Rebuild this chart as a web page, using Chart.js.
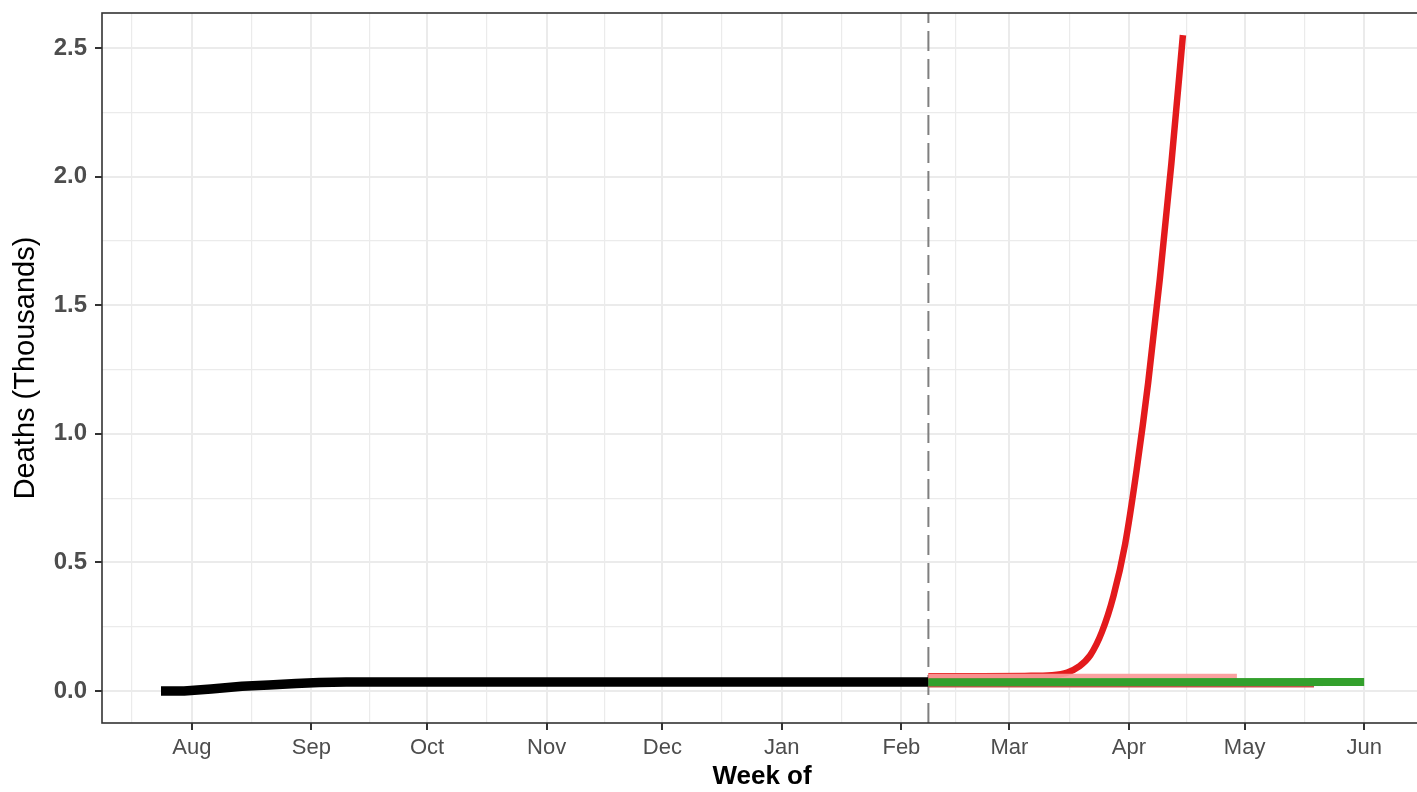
<!DOCTYPE html>
<html>
<head>
<meta charset="utf-8">
<script src="https://cdn.jsdelivr.net/npm/chart.js@4"></script>
<style>
  html, body { margin: 0; padding: 0; background: #fff; overflow: hidden; }
  #wrap { width: 1422px; height: 792px; position: relative; }
</style>
</head>
<body>
<div id="wrap"><canvas id="deathsChart"></canvas></div>
<script>
// ---- data (deaths, thousands) ----
const observedDates = ['2020-07-24', '2020-07-30', '2020-08-06', '2020-08-14', '2020-08-21', '2020-08-28',
    '2020-09-03', '2020-09-10', '2020-10-01', '2020-11-01', '2020-12-01', '2021-01-01', '2021-02-08'];
const observedValues = [0.000, 0.000, 0.008, 0.019, 0.024, 0.030,
    0.033, 0.035, 0.035, 0.035, 0.035, 0.035, 0.035];

const surgeDates = ['2021-02-08', '2021-02-22', '2021-03-05', '2021-03-12', '2021-03-16', '2021-03-19',
    '2021-03-22', '2021-03-25', '2021-03-28', '2021-03-31', '2021-04-03', '2021-04-06',
    '2021-04-09', '2021-04-12', '2021-04-15'];
const surgeValues = [0.058, 0.058, 0.059, 0.062, 0.072, 0.095,
    0.14, 0.23, 0.37, 0.57, 0.86, 1.20,
    1.60, 2.05, 2.55];

const lowRedDates = ['2021-02-08', '2021-05-19'];
const lowRedValues = [0.018, 0.018];

const pinkDates = ['2021-02-08', '2021-04-29'];
const pinkValues = [0.058, 0.058];

const greenDates = ['2021-02-08', '2021-06-01'];
const greenValues = [0.034, 0.035];

const forecastStart = '2021-02-08';

// ---- axes ----
const monthDates = ['2020-08-01', '2020-09-01', '2020-10-01', '2020-11-01', '2020-12-01', '2021-01-01',
    '2021-02-01', '2021-03-01', '2021-04-01', '2021-05-01', '2021-06-01'];
const monthLabels = ['Aug', 'Sep', 'Oct', 'Nov', 'Dec', 'Jan', 'Feb', 'Mar', 'Apr', 'May', 'Jun'];
const yMajor = [0, 0.5, 1.0, 1.5, 2.0, 2.5];
const yMinor = [0.25, 0.75, 1.25, 1.75, 2.25];
const yMin = -0.124, yMax = 2.636;
const xMin = -23.3, xMax = 319.0;   // days from 2020-08-01

const day = s => (Date.parse(s) - Date.parse('2020-08-01')) / 86400000;
const pts = (dates, vals) => dates.map((d, i) => ({ x: day(d), y: vals[i] }));

const majorX = monthDates.map(day);
// ggplot minor breaks sit halfway between the month breaks
const minorX = [majorX[0] - 15.5];
for (let i = 0; i < majorX.length - 1; i++) minorX.push((majorX[i] + majorX[i + 1]) / 2);
minorX.push(majorX[majorX.length - 1] + 15);

const isMajorX = v => majorX.some(m => Math.abs(m - v) < 1e-6);
const isMajorY = v => yMajor.some(m => Math.abs(m - v) < 1e-6);

Chart.defaults.font.family = '"Liberation Sans", Arial, Helvetica, sans-serif';

const panelBorder = {
    id: 'panelBorder',
    afterDraw(chart) {
        const { ctx, chartArea: a } = chart;
        ctx.save();
        ctx.strokeStyle = '#333333';
        ctx.lineWidth = 1.6;
        ctx.strokeRect(a.left, a.top, a.right - a.left, a.bottom - a.top);
        ctx.restore();
    }
};

const lineStyle = { pointRadius: 0, borderJoinStyle: 'round', borderCapStyle: 'butt', fill: false };

new Chart(document.getElementById('deathsChart'), {
    type: 'line',
    data: {
        datasets: [
            { ...lineStyle, label: 'Projection A', data: pts(greenDates, greenValues), borderColor: '#33A02C', borderWidth: 8, order: 0 },
            { ...lineStyle, label: 'Projection B', data: pts(pinkDates, pinkValues), borderColor: 'rgba(251,154,153,0.92)', borderWidth: 5, order: 1 },
            { ...lineStyle, label: 'Projection C', data: pts(surgeDates, surgeValues), borderColor: '#E31A1C', borderWidth: 6.5, cubicInterpolationMode: 'monotone', order: 2 },
            { ...lineStyle, label: 'Projection D', data: pts(lowRedDates, lowRedValues), borderColor: '#C8504A', borderWidth: 2, order: 3 },
            { ...lineStyle, label: 'Observed', data: pts(observedDates, observedValues), borderColor: '#000000', borderWidth: 9.5, order: 4 },
            { ...lineStyle, label: 'Forecast start', data: [{ x: day(forecastStart), y: yMin }, { x: day(forecastStart), y: yMax }],
              borderColor: '#7F7F7F', borderWidth: 2, borderDash: [20, 8], order: 5 }
        ]
    },
    options: {
        responsive: true,
        maintainAspectRatio: false,
        animation: false,
        layout: { padding: { top: 13, left: 0, right: 0, bottom: 0 } },
        plugins: { legend: { display: false }, tooltip: { enabled: false } },
        scales: {
            x: {
                type: 'linear',
                min: xMin,
                max: xMax,
                afterBuildTicks: s => { s.ticks = [...majorX, ...minorX].sort((a, b) => a - b).map(v => ({ value: v })); },
                afterFit: s => { s.height = 69; s.paddingLeft = 0; s.paddingRight = 0; },
                border: { display: false },
                grid: {
                    color: '#EBEBEB',
                    lineWidth: c => isMajorX(c.tick.value) ? 2 : 1.2,
                    tickColor: c => isMajorX(c.tick.value) ? '#333333' : 'rgba(0,0,0,0)',
                    tickLength: 7,
                    tickWidth: 2
                },
                ticks: {
                    autoSkip: false,
                    maxRotation: 0,
                    padding: 5,
                    color: '#4D4D4D',
                    font: { size: 22 },
                    callback: v => isMajorX(v) ? monthLabels[majorX.findIndex(m => Math.abs(m - v) < 1e-6)] : ''
                },
                title: {
                    display: true,
                    text: 'Week of',
                    color: '#000000',
                    font: { size: 26, weight: 'bold' },
                    padding: { top: 0, bottom: 0 }
                }
            },
            y: {
                min: yMin,
                max: yMax,
                afterBuildTicks: s => { s.ticks = [...yMajor, ...yMinor].sort((a, b) => a - b).map(v => ({ value: v })); },
                afterFit: s => { s.width = 102; s.paddingTop = 0; s.paddingBottom = 0; },
                border: { display: false },
                grid: {
                    color: '#EBEBEB',
                    lineWidth: c => isMajorY(c.tick.value) ? 2 : 1.2,
                    tickColor: c => isMajorY(c.tick.value) ? '#333333' : 'rgba(0,0,0,0)',
                    tickLength: 7,
                    tickWidth: 2
                },
                ticks: {
                    autoSkip: false,
                    padding: 8,
                    color: '#4D4D4D',
                    font: { size: 24, weight: 'bold' },
                    callback: v => isMajorY(v) ? v.toFixed(1) : ''
                },
                title: {
                    display: true,
                    text: 'Deaths (Thousands)',
                    color: '#000000',
                    font: { size: 29 },
                    padding: { top: 8.5, bottom: 0 }
                }
            }
        }
    },
    plugins: [panelBorder]
});
</script>
</body>
</html>
